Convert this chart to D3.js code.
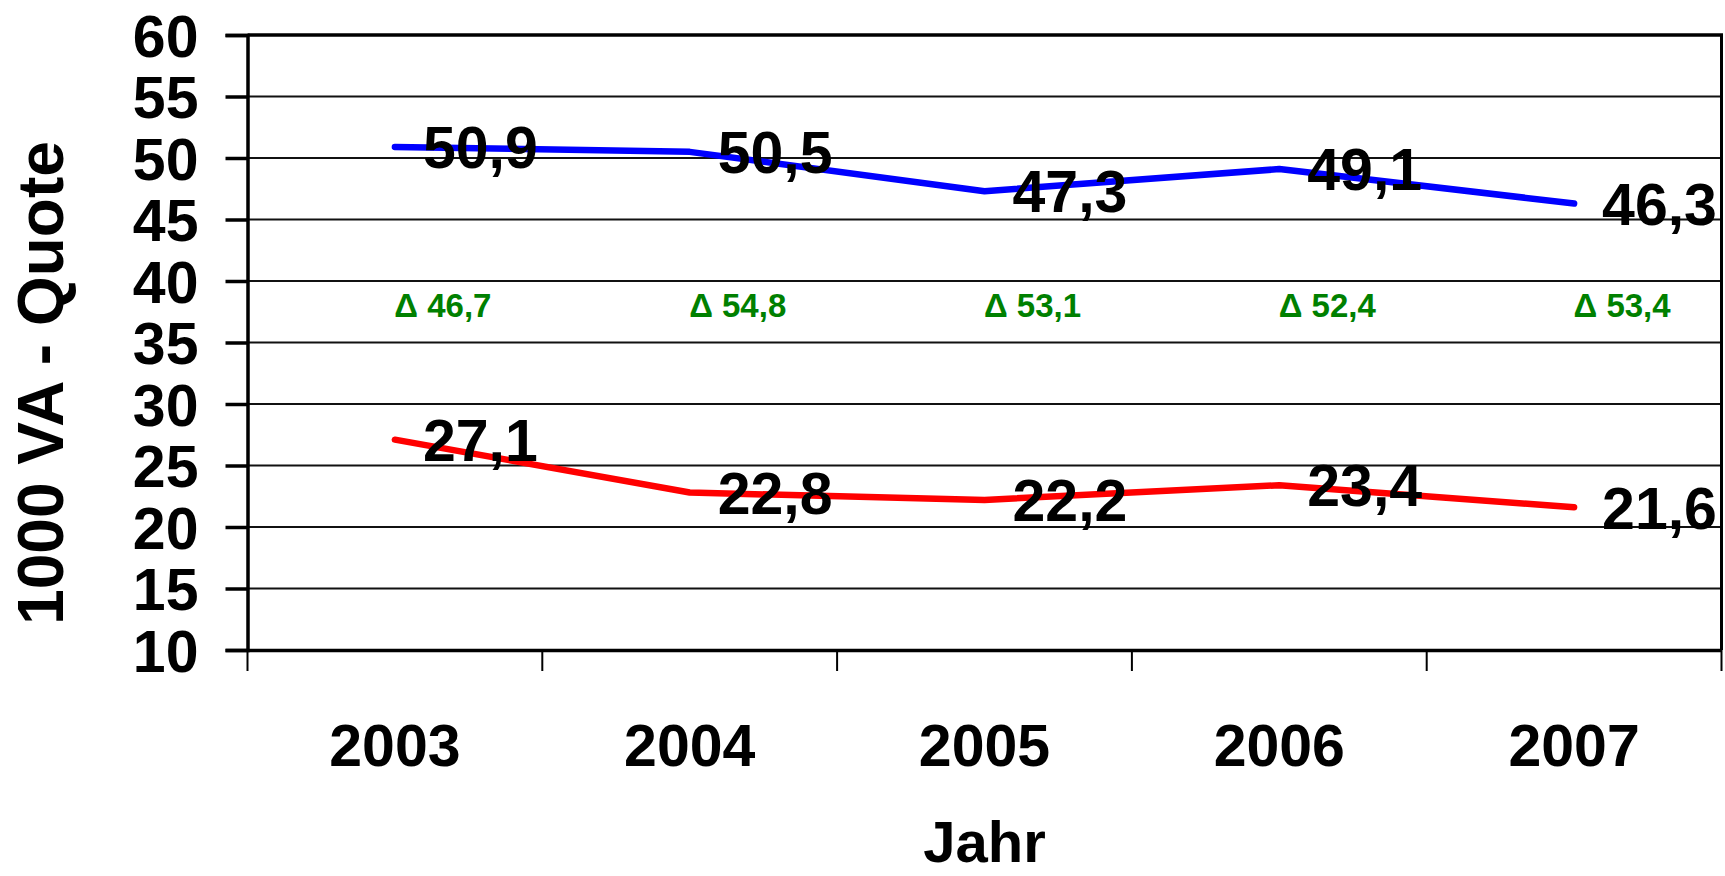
<!DOCTYPE html>
<html>
<head>
<meta charset="utf-8">
<script src="https://cdn.jsdelivr.net/npm/d3@7"></script>
<style>
  html, body { margin: 0; padding: 0; background: #fff; }
  svg { display: block; }
  text { font-family: "Liberation Sans", Arial, sans-serif; font-weight: bold; }
</style>
</head>
<body>
<svg id="chart" width="1725" height="876"></svg>
<script>
// ---- data ----
const years = ["2003", "2004", "2005", "2006", "2007"];
const blueValues = [50.9, 50.5, 47.3, 49.1, 46.3];
const redValues = [27.1, 22.8, 22.2, 23.4, 21.6];
const deltaLabels = ["\u0394 46,7", "\u0394 54,8", "\u0394 53,1", "\u0394 52,4", "\u0394 53,4"];
const deltaLevel = 38;
const yTicks = [10, 15, 20, 25, 30, 35, 40, 45, 50, 55, 60];
const xTitle = "Jahr";
const yTitle = "1000 VA - Quote";

(function () {
// ---- layout ----
const mLeft = 247.5, mRight = 1721.5, mTop = 35, mBottom = 650;
const svg = d3.select("#chart");

const x = d3.scaleBand().domain(years).range([mLeft, mRight]).padding(0);
const y = d3.scaleLinear().domain([10, 60]).range([mBottom, mTop]);
const cx = d => x(d) + x.bandwidth() / 2;
const fmt = v => String(v.toFixed(1)).replace(".", ",");

// gridlines
svg.append("g").selectAll("line")
  .data(yTicks.filter(t => t !== 10 && t !== 60))
  .join("line")
  .attr("x1", mLeft).attr("x2", mRight)
  .attr("y1", d => y(d)).attr("y2", d => y(d))
  .attr("stroke", "#111").attr("stroke-width", 2.2);

// frame top and right
svg.append("line").attr("x1", mLeft).attr("x2", mRight + 1.5)
  .attr("y1", y(60)).attr("y2", y(60)).attr("stroke", "#000").attr("stroke-width", 3.5);
svg.append("line").attr("x1", mRight).attr("x2", mRight)
  .attr("y1", y(60)).attr("y2", y(10)).attr("stroke", "#000").attr("stroke-width", 3);

// y axis
const yAxis = d3.axisLeft(y).tickValues(yTicks).tickSize(22).tickPadding(27).tickFormat(d3.format("d"));
const gy = svg.append("g").attr("transform", `translate(${mLeft},0)`).call(yAxis);
gy.select(".domain").attr("stroke", "#000").attr("stroke-width", 3.5);
gy.selectAll(".tick line").attr("stroke", "#000").attr("stroke-width", 3.5);
gy.selectAll(".tick text").attr("font-size", 59).attr("fill", "#000")
  .attr("font-family", "Liberation Sans, Arial, sans-serif").attr("font-weight", "bold")
  .attr("dy", "0.36em");

// x axis
const xAxis = d3.axisBottom(x).tickSize(0).tickPadding(0).tickFormat(() => "");
const gx = svg.append("g").attr("transform", `translate(0,${mBottom})`).call(xAxis);
gx.select(".domain").attr("stroke", "#000").attr("stroke-width", 3.5);
const boundaries = years.map(d => x(d)).concat([mRight]);
gx.append("g").selectAll("line").data(boundaries).join("line")
  .attr("x1", d => d).attr("x2", d => d).attr("y1", 0).attr("y2", 21)
  .attr("stroke", "#000").attr("stroke-width", 2);
svg.append("g").selectAll("text").data(years).join("text")
  .attr("x", d => cx(d)).attr("y", 766)
  .attr("text-anchor", "middle").attr("font-size", 59).attr("fill", "#000")
  .text(d => d);

// axis titles
svg.append("text").attr("x", (mLeft + mRight) / 2).attr("y", 862)
  .attr("text-anchor", "middle").attr("font-size", 58).attr("fill", "#000").text(xTitle);
svg.append("text").attr("transform", `translate(63,383) rotate(-90)`)
  .attr("text-anchor", "middle").attr("font-size", 64).attr("fill", "#000").text(yTitle);

// lines
const line = d3.line().x((d, i) => cx(years[i])).y(d => y(d));
svg.append("path").datum(blueValues).attr("d", line)
  .attr("fill", "none").attr("stroke", "#0000ff").attr("stroke-width", 6.5)
  .attr("stroke-linecap", "round").attr("stroke-linejoin", "round");
svg.append("path").datum(redValues).attr("d", line)
  .attr("fill", "none").attr("stroke", "#ff0000").attr("stroke-width", 6.5)
  .attr("stroke-linecap", "round").attr("stroke-linejoin", "round");

// value labels
function addLabels(vals) {
  svg.append("g").selectAll("text").data(vals).join("text")
    .attr("x", (d, i) => cx(years[i]) + 28)
    .attr("y", d => y(d)).attr("dy", "0.36em")
    .attr("font-size", 59).attr("fill", "#000")
    .text(d => fmt(d));
}
addLabels(blueValues);
addLabels(redValues);

// delta labels
svg.append("g").selectAll("text").data(deltaLabels).join("text")
  .attr("x", (d, i) => cx(years[i]) + 48)
  .attr("y", y(deltaLevel)).attr("dy", "0.36em")
  .attr("text-anchor", "middle").attr("font-size", 33).attr("fill", "#008000")
  .text(d => d);
})();
</script>
</body>
</html>
